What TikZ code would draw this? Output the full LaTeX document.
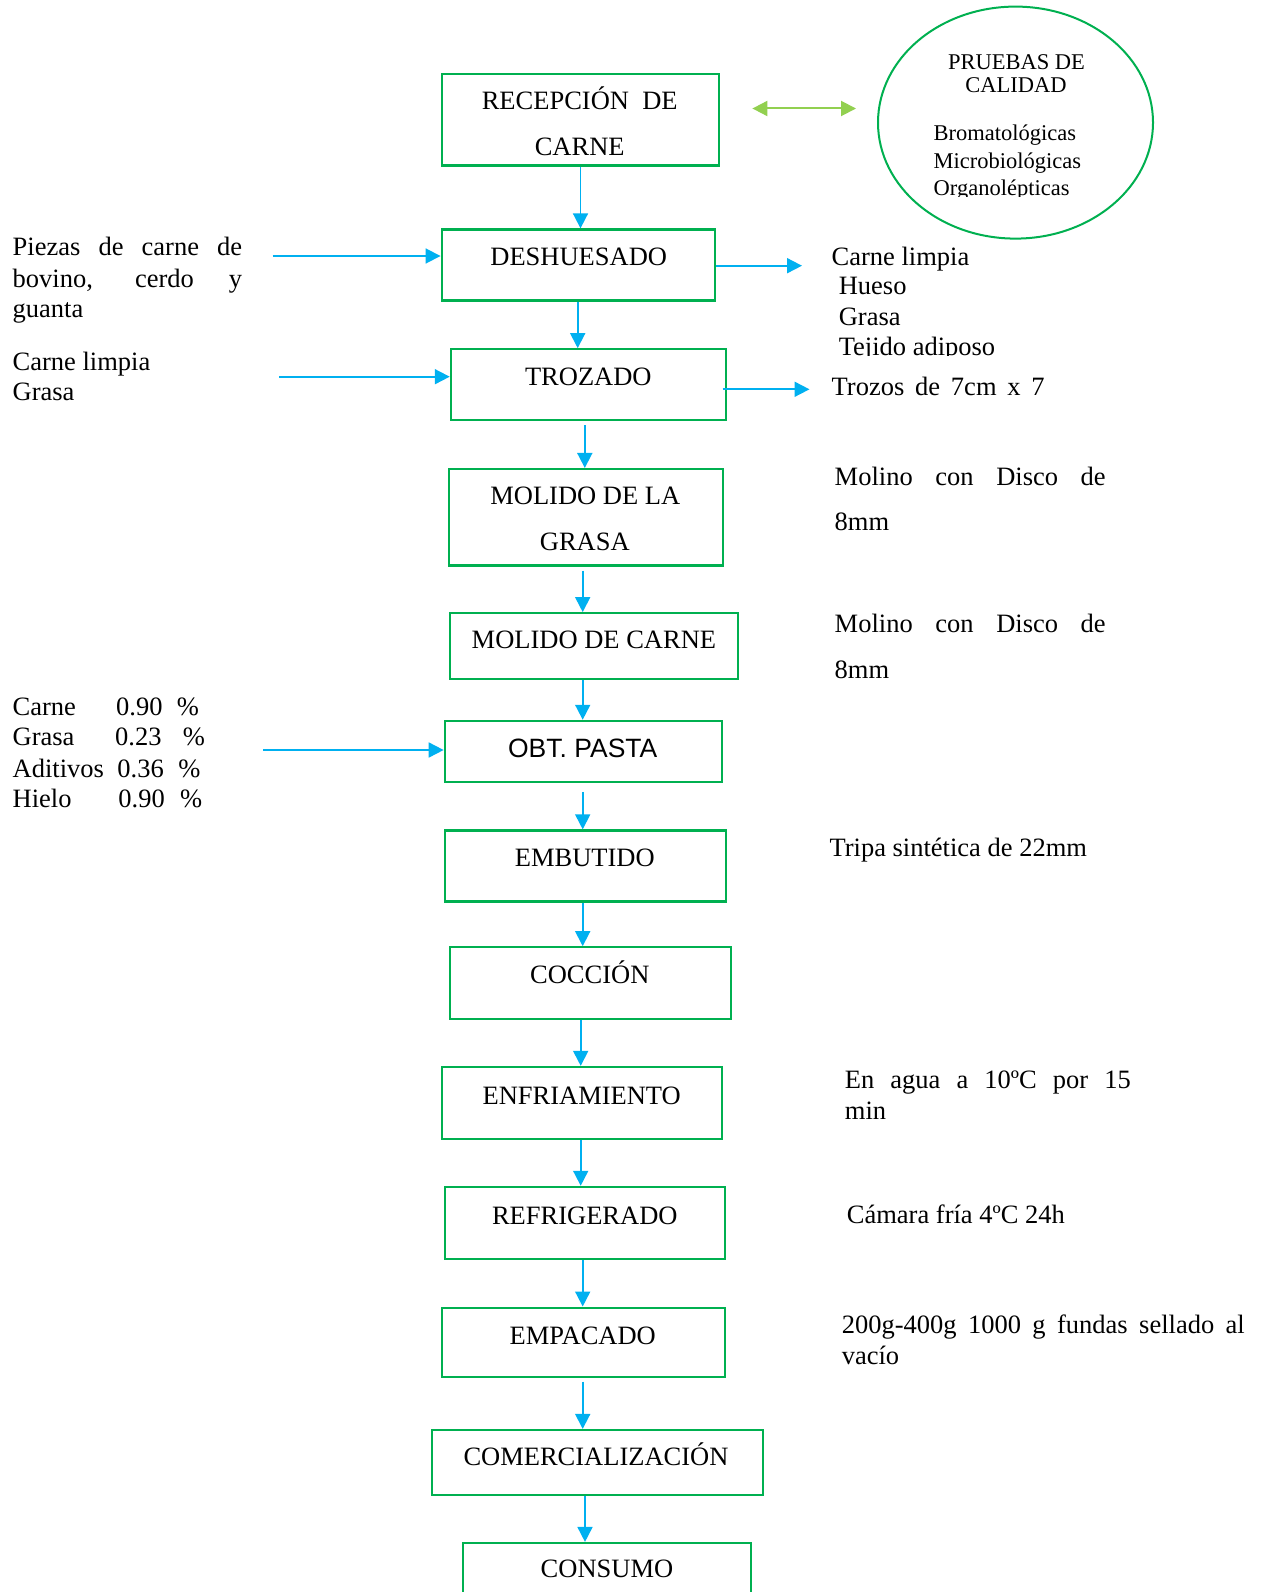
\documentclass[tikz,border=0pt]{standalone}
\usepackage{fontspec}
\setmainfont{Liberation Serif}
\newfontfamily\arialfont{Liberation Sans}
\usetikzlibrary{arrows.meta,shapes.geometric}
\definecolor{boxgreen}{HTML}{00B050}
\definecolor{arrblue}{HTML}{00B0F0}
\definecolor{lgreen}{HTML}{92D050}
\newcommand\myfs{\fontsize{26.5}{30.3}\selectfont}
\newcommand\myfss{\fontsize{22.5}{27}\selectfont}
\begin{document}
\begin{tikzpicture}[x=1pt,y=-1pt,
  box/.style={draw=boxgreen, line width=2.2pt, inner sep=0pt},
  ell/.style={draw=boxgreen, line width=2pt, ellipse, inner sep=0pt},
  arr/.style={draw=arrblue, line width=1.8pt, -{Triangle[length=15pt,width=15pt]}},
  garr/.style={draw=lgreen, line width=2pt, {Triangle[length=15pt,width=15pt]}-{Triangle[length=15pt,width=15pt]}},
  txt/.style={inner sep=0pt, font=\myfs, anchor=base west},
  ctxt/.style={inner sep=0pt, font=\myfs, anchor=base},
  stxt/.style={inner sep=0pt, font=\myfss, anchor=base west},
  sctxt/.style={inner sep=0pt, font=\myfss, anchor=base}]
\clip (0,0) rectangle (1266,1592);
\fill[white] (0,0) rectangle (1266,1592);

% process boxes
\node[box, minimum width=277.2pt, minimum height=91.4pt] (recep) at (580.2,119.8) {};
\node[box, minimum width=273.1pt, minimum height=71.1pt] (desh) at (578.2,265) {};
\node[box, minimum width=275.1pt, minimum height=71.1pt] (troz) at (588.4,384.8) {};
\node[box, minimum width=274.1pt, minimum height=96.5pt] (molg) at (585.8,517.3) {};
\node[box, minimum width=288.4pt, minimum height=66pt] (molc) at (593.9,646.2) {};
\node[box, minimum width=277.1pt, minimum height=60.9pt] (obt) at (583.3,751.3) {};
\node[box, minimum width=281.2pt, minimum height=71.1pt] (emb) at (585.3,866) {};
\node[box, minimum width=281.3pt, minimum height=72.1pt] (cocc) at (590.4,983.3) {};
\node[box, minimum width=280.2pt, minimum height=72.1pt] (enfr) at (581.7,1103) {};
\node[box, minimum width=280.2pt, minimum height=72.1pt] (refr) at (584.8,1222.9) {};
\node[box, minimum width=283.3pt, minimum height=69pt] (empa) at (583.3,1342.1) {};
\node[box, minimum width=331.3pt, minimum height=65pt] (come) at (597.4,1462.5) {};
\node[box, minimum width=288pt, minimum height=77pt] (cons) at (607,1581.5) {};

% box texts
\node[ctxt] (t1a) at (579.7,109.5) {RECEPCIÓN\ \ DE};
\node[ctxt] (t1b) at (579.7,155.2) {CARNE};
\node[ctxt] (t2) at (578.7,265.9) {DESHUESADO};
\node[ctxt] (t3) at (588.3,385.6) {TROZADO};
\node[ctxt] (t4a) at (585.3,504.4) {MOLIDO DE LA};
\node[ctxt] (t4b) at (584.8,550.1) {GRASA};
\node[ctxt] (t5) at (593.9,648.6) {MOLIDO DE CARNE};
\node[ctxt, font=\arialfont\myfs] (t6) at (582.7,757.2) {OBT. PASTA};
\node[ctxt] (t7) at (584.8,866.8) {EMBUTIDO};
\node[ctxt] (t8) at (589.8,983.6) {COCCIÓN};
\node[ctxt] (t9) at (581.7,1104.4) {ENFRIAMIENTO};
\node[ctxt] (t10) at (584.8,1224.2) {REFRIGERADO};
\node[ctxt] (t11) at (582.7,1344) {EMPACADO};
\node[ctxt] (t12) at (596,1465.7) {COMERCIALIZACIÓN};
\node[ctxt] (t13) at (607,1577) {CONSUMO};

% quality tests ellipse
\node[ell, minimum width=275pt, minimum height=232pt] (prueb) at (1015.5,122.6) {};
\node[sctxt] (p1) at (1016.5,69.2) {PRUEBAS DE};
\node[sctxt] (p2) at (1016,92.5) {CALIDAD};
\node[stxt] (p3) at (933.5,140.8) {Bromatológicas};
\node[stxt] (p4) at (933.5,168.2) {Microbiológicas};
\begin{scope}
\clip (900,170) rectangle (1120,196.5);
\node[stxt] (p5) at (933.5,195.8) {Organolépticas};
\end{scope}
\coordinate (g1) at (752.4,108.5);
\coordinate (g2) at (856,108.5);
\draw[garr] (g1) -- (g2);

% main flow arrows
\coordinate (ax1) at (580.5,0);
\coordinate (ax2) at (577.7,0);
\coordinate (ax3) at (584.8,0);
\coordinate (ax4) at (582.7,0);
\coordinate (ax5) at (580.7,0);
\coordinate (ax6) at (585,0);
\draw[arr] (recep.south -| ax1) -- (desh.north -| ax1);
\draw[arr] (desh.south -| ax2) -- (troz.north -| ax2);
\draw[arr] ([yshift=-4pt]troz.south -| ax3) -- (molg.north -| ax3);
\draw[arr] ([yshift=-4pt]molg.south -| ax4) -- (molc.north -| ax4);
\draw[arr] (molc.south -| ax4) -- (obt.north -| ax4);
\draw[arr] ([yshift=-9pt]obt.south -| ax4) -- (emb.north -| ax4);
\draw[arr] (emb.south -| ax4) -- (cocc.north -| ax4);
\draw[arr] (cocc.south -| ax5) -- (enfr.north -| ax5);
\draw[arr] (enfr.south -| ax5) -- (refr.north -| ax5);
\draw[arr] (refr.south -| ax4) -- (empa.north -| ax4);
\draw[arr] ([yshift=-4pt]empa.south -| ax4) -- (come.north -| ax4);
\draw[arr] (come.south -| ax6) -- (cons.north -| ax6);

% side arrows
\coordinate (l1) at (272.7,256);
\coordinate (l2) at (279.3,376.7);
\coordinate (l3) at (263.3,750);
\draw[arr] (l1) -- (l1 -| desh.west);
\draw[arr] (l2) -- (l2 -| troz.west);
\draw[arr] (l3) -- (l3 -| obt.west);
\coordinate (r1) at (802,265.7);
\draw[arr] (r1 -| desh.east) -- (r1);
\coordinate (r2s) at (722.6,389.3);
\coordinate (r2) at (809.5,389.3);
\draw[arr] (r2s) -- (r2);

% left texts
\node[txt] (la1) at (12.5,255.7) {\makebox[229.5pt][s]{Piezas de carne de}};
\node[txt] (la2) at (12.5,287.3) {\makebox[229.5pt][s]{bovino, cerdo y}};
\node[txt] (la3) at (12.5,317.3) {guanta};
\node[txt] (lb1) at (12.5,370.7) {Carne limpia};
\node[txt] (lb2) at (12.5,400.7) {Grasa};
\node[txt] (lc1) at (12.5,715) {\makebox[103.5pt][l]{Carne}\makebox[60.7pt][l]{0.90}\%};
\node[txt] (lc2) at (12.5,745.7) {\makebox[102.5pt][l]{Grasa}\makebox[67.7pt][l]{0.23}\%};
\node[txt] (lc3) at (12.5,777.3) {\makebox[104.8pt][l]{Aditivos}\makebox[61pt][l]{0.36}\%};
\node[txt] (lc4) at (12.5,807.3) {\makebox[105.8pt][l]{Hielo}\makebox[61.7pt][l]{0.90}\%};

% right texts
\node[txt] (ra1) at (831.5,265.7) {Carne limpia};
\node[txt] (ra2) at (838.6,294.7) {Hueso};
\node[txt] (ra3) at (838.6,325.7) {Grasa};
\begin{scope}
\clip (820,330) rectangle (1100,355.5);
\node[txt] (ra4) at (838.6,355.7) {Tejido adiposo};
\end{scope}
\node[txt] (rb) at (831.5,395.7) {\makebox[213pt][s]{Trozos de 7cm x 7}};
\node[txt] (rc1) at (834.5,485) {\makebox[271pt][s]{Molino con Disco de}};
\node[txt] (rc2) at (834.5,530.8) {8mm};
\node[txt] (rd1) at (834.5,632.3) {\makebox[271pt][s]{Molino con Disco de}};
\node[txt] (rd2) at (834.5,678) {8mm};
\node[txt] (re) at (829.4,856.7) {Tripa sintética de 22mm};
\node[txt] (rf1) at (844.7,1088.2) {\makebox[286pt][s]{En agua a 10ºC por 15}};
\node[txt] (rf2) at (844.7,1119.6) {min};
\node[txt] (rg) at (846.7,1223.2) {Cámara fría 4ºC 24h};
\node[txt] (rh1) at (841.6,1333.9) {\makebox[403pt][s]{200g-400g 1000 g fundas sellado al}};
\node[txt] (rh2) at (841.6,1364.3) {vacío};
\end{tikzpicture}
\end{document}
